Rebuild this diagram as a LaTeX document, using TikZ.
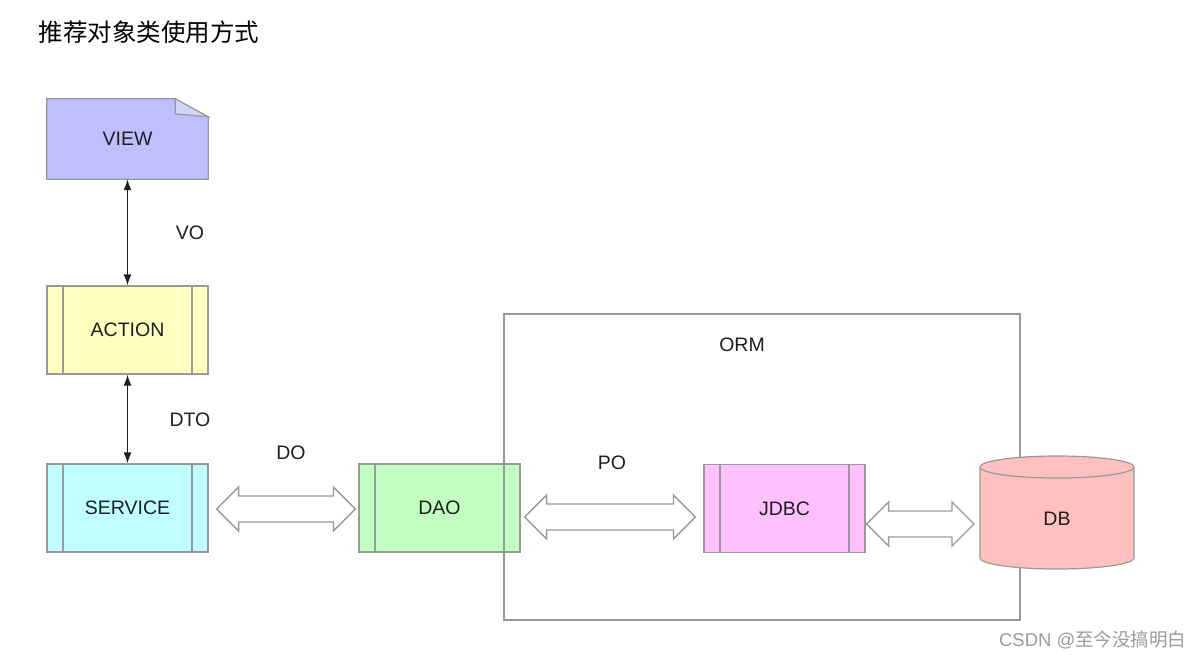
\documentclass[tikz,border=0pt]{standalone}
\usepackage{fontspec}
\setmainfont{Liberation Sans}
\newfontfamily\cjkfont{Noto Sans CJK SC}
\usetikzlibrary{calc, arrows.meta}
\definecolor{viewblue}{HTML}{BFBFFF}
\definecolor{foldblue}{HTML}{D4D4F4}
\definecolor{actionyellow}{HTML}{FFFFC0}
\definecolor{servicecyan}{HTML}{C0FFFF}
\definecolor{daogreen}{HTML}{C0FFC0}
\definecolor{jdbcpink}{HTML}{FFC0FF}
\definecolor{dbred}{HTML}{FFC0C0}
\definecolor{linegray}{HTML}{999999}
\definecolor{markgray}{HTML}{9A9A9A}
\definecolor{textdark}{HTML}{1E1E1E}

% hollow two-headed arrow between two points
\newcommand{\fatarrow}[2]{%
  \draw[fatarr] (#1) -- ++(22,-22) -- ++(0,9) -- ($(#2)+(-22,-13)$) -- ++(0,-9)
    -- (#2) -- ++(-22,22) -- ++(0,-9) -- ($(#1)+(22,13)$) -- ++(0,9) -- cycle;}

\begin{document}
\begin{tikzpicture}[x=1pt,y=-1pt,
	font=\fontsize{19.5}{23}\selectfont, text=textdark,
	process/.style={rectangle, draw=linegray, line width=1.2pt, minimum width=161pt, minimum height=88pt,
		path picture={\draw[linegray, line width=1.2pt]
			([xshift=16pt]path picture bounding box.north west) -- ([xshift=16pt]path picture bounding box.south west)
			([xshift=-16pt]path picture bounding box.north east) -- ([xshift=-16pt]path picture bounding box.south east);}},
	lbl/.style={inner sep=0pt},
	thinarr/.style={{Latex[length=11pt,width=8pt]}-{Latex[length=11pt,width=8pt]}, line width=1.4pt, draw=textdark},
	fatarr/.style={draw=linegray, fill=white, line width=1.3pt, line join=miter}]
	\useasboundingbox (0,0) rectangle (1203,659);

	\node[anchor=west, text=black, font=\cjkfont\fontsize{24.5}{28}\selectfont] (title) at (35,32) {推荐对象类使用方式};

	% view page with folded corner
	\node[minimum width=161pt, minimum height=80pt] (view) at (127.5,139) {};
	\filldraw[fill=viewblue, draw=linegray, line width=1.2pt] (view.north west) -- ([xshift=-33pt]view.north east)
		-- ([yshift=-18pt]view.north east) -- (view.south east) -- (view.south west) -- cycle;
	\filldraw[fill=foldblue, draw=linegray, line width=1.2pt] ([xshift=-33pt]view.north east)
		-- ([xshift=-33pt,yshift=-15pt]view.north east) -- ([yshift=-18pt]view.north east) -- cycle;
	\node at (view) {VIEW};

	\node[process, fill=actionyellow] (action) at (127.5,330) {ACTION};
	\node[process, fill=servicecyan] (service) at (127.5,508) {SERVICE};
	\node[process, fill=daogreen] (dao) at (439.5,508) {DAO};
	\node[process, fill=jdbcpink] (jdbc) at (784.5,508.5) {JDBC};

	\draw[thinarr] (view.south) -- (action.north);
	\draw[thinarr] (action.south) -- (service.north);
	\node[lbl] (vo) at (190,233) {VO};
	\node[lbl] (dto) at (190,420) {DTO};

	% orm frame
	\node[draw=linegray, line width=1.2pt, minimum width=516pt, minimum height=306pt] (orm) at (762,467) {};
	\node[lbl] (ormlbl) at (742,345) {ORM};

	% database
	\filldraw[fill=dbred, draw=linegray, line width=1.2pt] (980,467) -- (980,558)
		arc[start angle=180, end angle=0, x radius=77, y radius=11] -- (1134,467)
		arc[start angle=0, end angle=-180, x radius=77, y radius=11] -- cycle;
	\draw[linegray, line width=1.2pt] (980,467) arc[start angle=180, end angle=0, x radius=77, y radius=11];
	\node (db) at (1057,519) {DB};

	\coordinate (s1) at ($(service.east)+(8,1)$);
	\coordinate (d1) at ($(dao.west)+(-3,1)$);
	\coordinate (d2) at ($(dao.east)+(4,9)$);
	\coordinate (j1) at ($(jdbc.west)+(-8,8.5)$);
	\coordinate (j2) at ($(jdbc.east)+(1,15.5)$);
	\coordinate (b1) at (974,524);
	\fatarrow{s1}{d1}
	\fatarrow{d2}{j1}
	\fatarrow{j2}{b1}
	\node[lbl] (do) at (291,453) {DO};
	\node[lbl] (po) at (612,463) {PO};

	\node[anchor=east, text=markgray, font=\fontsize{18.5}{22}\selectfont] (mark) at (1190,640) {CSDN @{\cjkfont 至今没搞明白}};
\end{tikzpicture}
\end{document}
